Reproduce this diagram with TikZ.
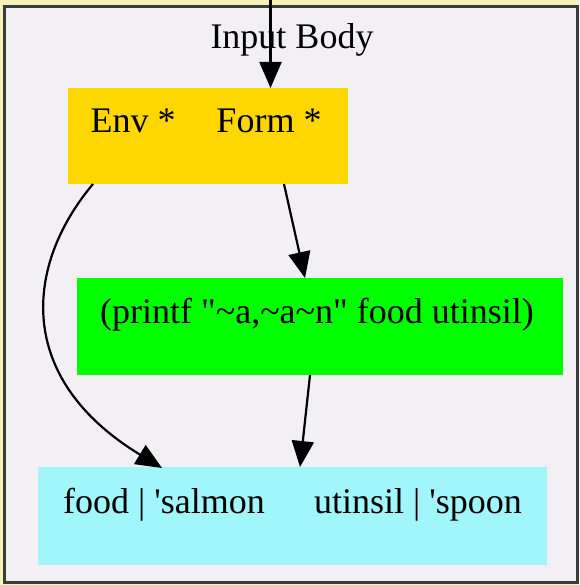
\documentclass[tikz,border=0pt]{standalone}
\usepackage{fontspec}
\setmainfont{Liberation Serif}
\usetikzlibrary{arrows.meta}
\definecolor{paper}{RGB}{246,242,186}
\definecolor{panel}{RGB}{242,240,244}
\definecolor{framegray}{RGB}{60,60,60}
\definecolor{goldbox}{RGB}{255,215,0}
\definecolor{limebox}{RGB}{0,255,0}
\definecolor{aquabox}{RGB}{160,246,251}
\begin{document}
\begin{tikzpicture}[x=1pt,y=-1pt,
  block/.style={draw=none,inner sep=0pt,outer sep=0pt},
  lbl/.style={inner sep=0pt,anchor=base,font=\fontsize{36}{40}\selectfont},
  edge/.style={draw=black,line width=2.2pt,-{Triangle[length=26pt,width=22pt]}}]
  % page and cluster frame
  \fill[paper] (0,0) rectangle (579,585);
  \useasboundingbox (0,0) rectangle (579,585);
  \draw[framegray,line width=3pt,fill=panel] (4.5,6.5) rectangle (577,582);
  \node[lbl] (title) at (292,49) {Input Body};

  % record nodes
  \node[block,fill=goldbox,minimum width=280,minimum height=96] (input) at (208,136) {};
  \node[lbl] (env) at (133,133) {Env *};
  \node[lbl] (form) at (269,133) {Form *};

  \node[block,fill=limebox,minimum width=486,minimum height=97] (call) at (320,326.5) {};
  \node[lbl] (callt) at (317,323) {(printf \textquotedbl\textasciitilde a,\textasciitilde a\textasciitilde n\textquotedbl\ food utinsil)};

  \node[block,fill=aquabox,minimum width=509,minimum height=98] (binds) at (292,516) {};
  \node[lbl] (food) at (164,513) {food | \textquotesingle salmon};
  \node[lbl] (utin) at (418,513) {utinsil | \textquotesingle spoon};

  % ports
  \coordinate (entry) at (270.5,0);
  \coordinate (formin) at (270.5,88);
  \coordinate (envout) at (93,184);
  \coordinate (formout) at (284,184);
  \coordinate (callin) at (305,278);
  \coordinate (callout) at (310,375);
  \coordinate (utinin) at (300,467);
  \coordinate (foodin) at (162,468);

  % connectors
  \draw[edge] (entry) -- (formin);
  \draw[edge] (formout) -- (callin);
  \draw[edge] (callout) -- (utinin);
  \draw[edge] (envout) .. controls (25,265) and (14,378) .. (foodin);
\end{tikzpicture}
\end{document}
